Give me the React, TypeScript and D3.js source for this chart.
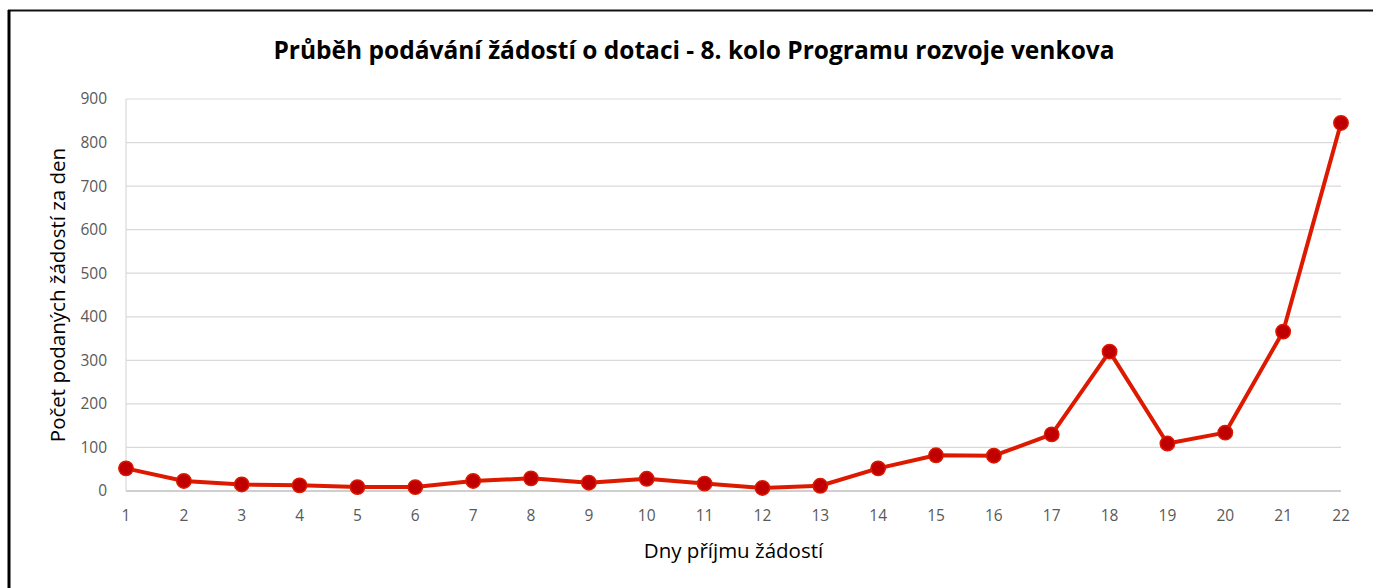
import React, { useEffect, useRef } from 'react';
import * as d3 from 'd3';

// days of the call and number of applications submitted per day
const days = d3.range(1, 23);
const counts = [52, 23, 15, 13, 9, 9, 23, 29, 19, 28, 17, 7, 12, 52, 82, 81, 130, 320, 109, 134, 366, 845];
const yTicks = [0, 100, 200, 300, 400, 500, 600, 700, 800, 900];

const title = 'Průběh podávání žádostí o dotaci - 8. kolo Programu rozvoje venkova';
const xTitle = 'Dny příjmu žádostí';
const yTitle = 'Počet podaných žádostí za den';

const W = 1373;
const H = 588;
const FONT = "'Open Sans', 'DejaVu Sans', sans-serif";

const App = () => {
  const svgRef = useRef<SVGSVGElement>(null);

  useEffect(() => {
    if (!svgRef.current) return;
    const svg = d3.select(svgRef.current);
    svg.selectAll('*').remove();

    const margin = { top: 99, right: 32, bottom: 97, left: 126 };
    const x = d3.scaleLinear().domain([1, 22]).range([margin.left, W - margin.right]);
    const y = d3.scaleLinear().domain([0, 900]).range([H - margin.bottom, margin.top]);

    svg.append('rect').attr('width', W).attr('height', H).attr('fill', '#fff');

    // outer frame (only top and left visible)
    svg.append('line').attr('x1', 8).attr('x2', W).attr('y1', 10.5).attr('y2', 10.5)
      .attr('stroke', '#111').attr('stroke-width', 2);
    svg.append('line').attr('x1', 9).attr('x2', 9).attr('y1', 10).attr('y2', H)
      .attr('stroke', '#000').attr('stroke-width', 3);

    // title, centred on the whole chart area
    svg.append('text')
      .attr('x', 694)
      .attr('y', 59)
      .attr('text-anchor', 'middle')
      .attr('font-family', FONT)
      .attr('font-size', 24.5)
      .attr('font-weight', 'bold')
      .attr('fill', '#000')
      .text(title);

    // gridlines
    svg.append('g')
      .selectAll('line')
      .data(yTicks)
      .enter()
      .append('line')
      .attr('x1', x(1))
      .attr('x2', x(22))
      .attr('y1', d => y(d))
      .attr('y2', d => y(d))
      .attr('stroke', d => (d === 0 ? '#bfbfbf' : '#d9d9d9'))
      .attr('stroke-width', d => (d === 0 ? 1.5 : 1.2));

    // left axis line
    svg.append('line')
      .attr('x1', x(1)).attr('x2', x(1))
      .attr('y1', y(900)).attr('y2', y(0))
      .attr('stroke', '#d9d9d9').attr('stroke-width', 1.2);

    // y tick labels
    svg.append('g')
      .selectAll('text')
      .data(yTicks)
      .enter()
      .append('text')
      .attr('x', x(1) - 19)
      .attr('y', d => y(d))
      .attr('dy', '0.35em')
      .attr('text-anchor', 'end')
      .attr('font-family', FONT)
      .attr('font-size', 15.5)
      .attr('fill', '#595959')
      .text(d => d);

    // x tick labels
    svg.append('g')
      .selectAll('text')
      .data(days)
      .enter()
      .append('text')
      .attr('x', d => x(d))
      .attr('y', y(0) + 30)
      .attr('text-anchor', 'middle')
      .attr('font-family', FONT)
      .attr('font-size', 15.5)
      .attr('fill', '#595959')
      .text(d => d);

    // axis titles
    svg.append('text')
      .attr('x', (x(1) + x(22)) / 2)
      .attr('y', 558)
      .attr('text-anchor', 'middle')
      .attr('font-family', FONT)
      .attr('font-size', 20.5)
      .attr('fill', '#000')
      .text(xTitle);

    svg.append('text')
      .attr('transform', `translate(65,${(y(0) + y(900)) / 2}) rotate(-90)`)
      .attr('text-anchor', 'middle')
      .attr('font-family', FONT)
      .attr('font-size', 20.5)
      .attr('fill', '#000')
      .text(yTitle);

    // series line
    const line = d3.line<number>()
      .x((_, i) => x(days[i]))
      .y(d => y(d));

    svg.append('path')
      .datum(counts)
      .attr('d', line)
      .attr('fill', 'none')
      .attr('stroke', '#dd1a00')
      .attr('stroke-width', 4)
      .attr('stroke-linejoin', 'round');

    // markers
    svg.append('g')
      .selectAll('circle')
      .data(counts)
      .enter()
      .append('circle')
      .attr('cx', (_, i) => x(days[i]))
      .attr('cy', d => y(d))
      .attr('r', 7.2)
      .attr('fill', '#c00000')
      .attr('stroke', '#d91a00')
      .attr('stroke-width', 1.5);
  }, []);

  return (
    <svg ref={svgRef} width={W} height={H} style={{ position: 'absolute', left: 0, top: 0, display: 'block' }} />
  );
};

export default App;
